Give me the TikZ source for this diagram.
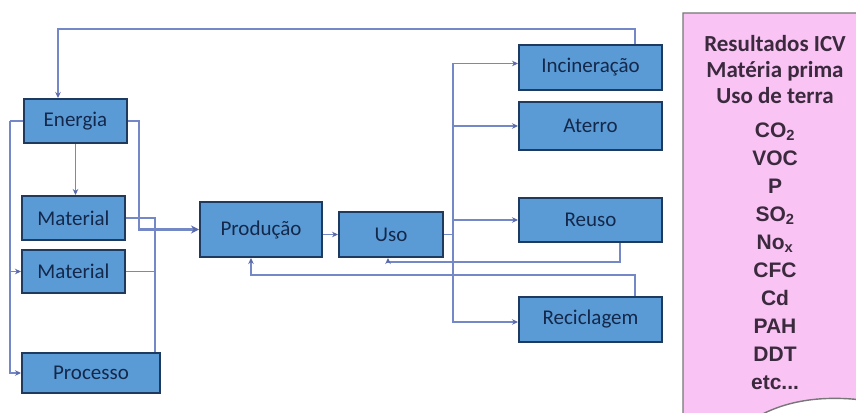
\documentclass[tikz,border=0pt]{standalone}
\usepackage{fontspec}
\usetikzlibrary{arrows.meta}
\newfontfamily\boxfont{Carlito}
\newfontfamily\chemfont{Liberation Sans}
\definecolor{boxfill}{HTML}{5B9BD5}
\definecolor{boxedge}{HTML}{1F3A5F}
\definecolor{boxtext}{HTML}{14284B}
\definecolor{wire}{HTML}{7487C6}
\definecolor{tip}{HTML}{5A6AA8}
\definecolor{notefill}{HTML}{F9C4F4}
\definecolor{noteedge}{HTML}{777777}
\definecolor{notetext}{HTML}{3B2A3E}
\tikzset{
  stage/.style={draw=boxedge, fill=boxfill, line width=2pt, text=boxtext,
    font=\boxfont\fontsize{21}{24}\selectfont, inner sep=0pt},
  wireline/.style={draw=wire, line width=1.9pt},
  flow/.style={wireline, -{Stealth[length=6pt,width=5.5pt,color=tip]}},
  bigflow/.style={wireline, line width=2.3pt, -{Stealth[length=8pt,width=8pt,color=tip]}},
  headline/.style={anchor=base, text=notetext, inner sep=0pt,
    font=\boxfont\bfseries\fontsize{23}{25}\selectfont},
  chemline/.style={anchor=base, text=notetext, inner sep=0pt,
    font=\chemfont\bfseries\fontsize{21}{24}\selectfont},
}
\begin{document}
\begin{tikzpicture}[x=1pt, y=-1pt]
\path[use as bounding box, fill=white] (0,0) rectangle (856,412);

% process stages
\node[stage, minimum width=103pt, minimum height=44pt] (en)   at (75.5,121)   {Energia};
\node[stage, minimum width=103pt, minimum height=44pt] (mat1) at (73.5,218)   {Material};
\node[stage, minimum width=103pt, minimum height=43pt] (mat2) at (73.5,271.5) {Material};
\node[stage, minimum width=138pt, minimum height=40pt] (proc) at (91,373)     {Processo};
\node[stage, minimum width=122pt, minimum height=55pt] (prod) at (261,229.5)  {Produção};
\node[stage, minimum width=104pt, minimum height=45pt] (uso)  at (391,234.5)  {Uso};
\node[stage, minimum width=143pt, minimum height=45pt] (inc)  at (590.5,67.5) {Incineração};
\node[stage, minimum width=143pt, minimum height=48pt] (ate)  at (590.5,126)  {Aterro};
\node[stage, minimum width=143pt, minimum height=44pt] (reu)  at (590.5,220)  {Reuso};
\node[stage, minimum width=143pt, minimum height=45pt] (rec)  at (590.5,319.5){Reciclagem};

% feedback from incineration to energy
\draw[flow] ([xshift=44.5pt]inc.north) -- ++(0,-15) -| ([xshift=-17.5pt]en.north);

% energy distribution on the left
\coordinate (lbus) at (10,121);
\draw[wireline] (en.west) -- (lbus);
\draw[flow] (lbus) |- (mat2.west);
\draw[flow] (lbus) |- (proc.west);
\draw[flow] (en.south) -- (en.south |- mat1.north);

% inputs to production
\draw[bigflow] (en.east) -- ++(11,0) |- (prod.west);
\draw[wireline] (mat1.east) -| ([xshift=64pt]proc.north);
\draw[wireline] (mat2.east) -- ++(30,0);

% production to use
\draw[flow] (uso.west -| prod.east) -- (uso.west);

% end-of-life routes
\coordinate (rbus) at (453,234.5);
\draw[wireline] (uso.east) -- (rbus);
\draw[flow] (rbus) |- ([yshift=4pt]inc.west);
\draw[flow] (rbus) |- (ate.west);
\draw[flow] (rbus) |- (reu.west);
\draw[flow] (rbus) |- ([yshift=-2.5pt]rec.west);

% return loops
\draw[flow] ([xshift=29.5pt]reu.south) -- ++(0,19) -| ([xshift=-3pt]uso.south);
\draw[flow] ([xshift=44.5pt]rec.north) -- ++(0,-21) -| ([xshift=-10pt]prod.south);

% inventory results sheet
\begin{scope}
\clip (0,0) rectangle (856,412);
\draw[fill=notefill, draw=noteedge, line width=1.4pt]
  (683,13) -- (870,13) -- (870,401)
  .. controls (835,396) and (790,396) .. (752,420) -- (683,420) -- cycle;
\end{scope}

\node[headline] (h1) at (775,52)  {Resultados ICV};
\node[headline] (h2) at (775,77.5){Matéria prima};
\node[headline] (h3) at (775,103) {Uso de terra};

\node[chemline] (c1)  at (775,137)   {CO\textsubscript{2}};
\node[chemline] (c2)  at (775,165.1) {VOC};
\node[chemline] (c3)  at (775,193.2) {P};
\node[chemline] (c4)  at (775,221.3) {SO\textsubscript{2}};
\node[chemline] (c5)  at (775,249.4) {No\textsubscript{x}};
\node[chemline] (c6)  at (775,277.5) {CFC};
\node[chemline] (c7)  at (775,305.6) {Cd};
\node[chemline] (c8)  at (775,333.7) {PAH};
\node[chemline] (c9)  at (775,361.8) {DDT};
\node[chemline] (c10) at (775,389.9) {etc...};
\end{tikzpicture}
\end{document}
